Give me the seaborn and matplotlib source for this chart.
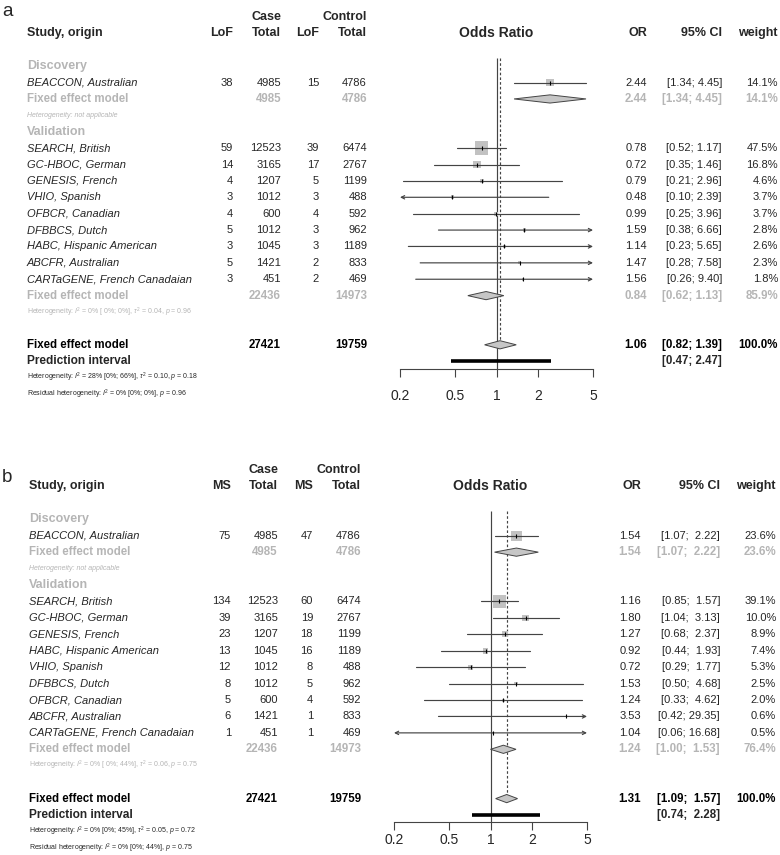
import matplotlib
matplotlib.use("Agg")
import matplotlib.pyplot as plt
import matplotlib.transforms as mtransforms
from matplotlib.patches import Polygon
import numpy as np
import pandas as pd
import seaborn as sns

# ---------------------------------------------------------------------------
# Panel a: loss-of-function variants
# ---------------------------------------------------------------------------
a_studies = ["BEACCON, Australian",
             "SEARCH, British", "GC-HBOC, German", "GENESIS, French",
             "VHIO, Spanish", "OFBCR, Canadian", "DFBBCS, Dutch",
             "HABC, Hispanic American", "ABCFR, Australian",
             "CARTaGENE, French Canadaian"]
a_case_ev = [38, 59, 14, 4, 3, 4, 5, 3, 5, 3]
a_case_tot = [4985, 12523, 3165, 1207, 1012, 600, 1012, 1045, 1421, 451]
a_ctrl_ev = [15, 39, 17, 5, 3, 4, 3, 3, 2, 2]
a_ctrl_tot = [4786, 6474, 2767, 1199, 488, 592, 962, 1189, 833, 469]
a_or = [2.44, 0.78, 0.72, 0.79, 0.48, 0.99, 1.59, 1.14, 1.47, 1.56]
a_lo = [1.34, 0.52, 0.35, 0.21, 0.10, 0.25, 0.38, 0.23, 0.28, 0.26]
a_hi = [4.45, 1.17, 1.46, 2.96, 2.39, 3.96, 6.66, 5.65, 7.58, 9.40]
a_w = [14.1, 47.5, 16.8, 4.6, 3.7, 3.7, 2.8, 2.6, 2.3, 1.8]
# fixed effect: discovery, validation, overall  (or, lo, hi, weight)
a_fixed = [(2.44, 1.34, 4.45, 14.1), (0.84, 0.62, 1.13, 85.9), (1.06, 0.82, 1.39, 100.0)]
a_pred = (0.47, 2.47)
a_het = [r"Heterogeneity: $I^2$ = 0% [ 0%; 0%], $\tau^2$ = 0.04, $p$ = 0.96",
         r"Heterogeneity: $I^2$ = 28% [0%; 66%], $\tau^2$ = 0.10, $p$ = 0.18",
         r"Residual heterogeneity: $I^2$ = 0% [0%; 0%], $p$ = 0.96"]

# ---------------------------------------------------------------------------
# Panel b: missense variants
# ---------------------------------------------------------------------------
b_studies = ["BEACCON, Australian",
             "SEARCH, British", "GC-HBOC, German", "GENESIS, French",
             "HABC, Hispanic American", "VHIO, Spanish", "DFBBCS, Dutch",
             "OFBCR, Canadian", "ABCFR, Australian",
             "CARTaGENE, French Canadaian"]
b_case_ev = [75, 134, 39, 23, 13, 12, 8, 5, 6, 1]
b_case_tot = [4985, 12523, 3165, 1207, 1045, 1012, 1012, 600, 1421, 451]
b_ctrl_ev = [47, 60, 19, 18, 16, 8, 5, 4, 1, 1]
b_ctrl_tot = [4786, 6474, 2767, 1199, 1189, 488, 962, 592, 833, 469]
b_or = [1.54, 1.16, 1.80, 1.27, 0.92, 0.72, 1.53, 1.24, 3.53, 1.04]
b_lo = [1.07, 0.85, 1.04, 0.68, 0.44, 0.29, 0.50, 0.33, 0.42, 0.06]
b_hi = [2.22, 1.57, 3.13, 2.37, 1.93, 1.77, 4.68, 4.62, 29.35, 16.68]
b_w = [23.6, 39.1, 10.0, 8.9, 7.4, 5.3, 2.5, 2.0, 0.6, 0.5]
b_fixed = [(1.54, 1.07, 2.22, 23.6), (1.24, 1.00, 1.53, 76.4), (1.31, 1.09, 1.57, 100.0)]
b_pred = (0.74, 2.28)
b_het = [r"Heterogeneity: $I^2$ = 0% [ 0%; 44%], $\tau^2$ = 0.06, $p$ = 0.75",
         r"Heterogeneity: $I^2$ = 0% [0%; 45%], $\tau^2$ = 0.05, $p$ = 0.72",
         r"Residual heterogeneity: $I^2$ = 0% [0%; 44%], $p$ = 0.75"]

ticks = [0.2, 0.5, 1, 2, 5]
tick_labels = ["0.2", "0.5", "1", "2", "5"]

sns.set_style("white")
plt.rcParams["font.family"] = ["Liberation Sans", "DejaVu Sans"]
plt.rcParams["mathtext.fontset"] = "custom"
plt.rcParams["mathtext.rm"] = "Liberation Sans"
plt.rcParams["mathtext.it"] = "Liberation Sans:italic"

W, H = 780, 855
GRAY = "#b5b5b5"
LINE = "#444444"
SQ = "#c2c2c2"
DIA = "#c6c6c6"

fig = plt.figure(figsize=(W / 100, H / 100), dpi=100)

panels = [
    dict(label="a", label_y=16, y0=17, dy=16.39, axis_row=22.5, x02=400, x5=593,
         cols=(233, 281, 319, 367), study_x=27, or_x=647, ci_x=722, w_x=778, pad=8.5,
         ev="LoF", studies=a_studies, case_ev=a_case_ev, case_tot=a_case_tot,
         ctrl_ev=a_ctrl_ev, ctrl_tot=a_ctrl_tot, orv=a_or, lo=a_lo, hi=a_hi, w=a_w,
         fixed=a_fixed, pred=a_pred, het=a_het),
    dict(label="b", label_y=482, y0=470, dy=16.43, axis_row=22.4, x02=394, x5=587,
         cols=(231, 278, 313, 361), study_x=29, or_x=641, ci_x=720, w_x=776, pad=3,
         ev="MS", studies=b_studies, case_ev=b_case_ev, case_tot=b_case_tot,
         ctrl_ev=b_ctrl_ev, ctrl_tot=b_ctrl_tot, orv=b_or, lo=b_lo, hi=b_hi, w=b_w,
         fixed=b_fixed, pred=b_pred, het=b_het),
]

for p in panels:
    top_px = p["y0"] - 0.5 * p["dy"]
    bot_px = p["y0"] + (p["axis_row"] - 1) * p["dy"]
    ax = fig.add_axes([p["x02"] / W, 1 - bot_px / H,
                       (p["x5"] - p["x02"]) / W, (bot_px - top_px) / H])
    tr = mtransforms.blended_transform_factory(fig.transFigure, ax.transData)

    def txt(xpx, row, s, **kw):
        kw.setdefault("va", "center")
        kw.setdefault("fontsize", 8)
        ax.text(xpx / W, row, s, transform=tr, clip_on=False, **kw)

    n_val = len(p["studies"]) - 1
    rows = [5] + list(range(9, 9 + n_val))
    r_fix_disc, r_het_disc, r_val = 6, 7, 8
    r_fix_val = 9 + n_val
    r_het_val = r_fix_val + 1
    r_fix_all = r_fix_val + 3
    r_pred = r_fix_all + 1

    df = pd.DataFrame({"or": p["orv"], "row": rows, "weight": p["w"]})
    wmax = max(p["w"])

    # confidence intervals (arrows where they run past the axis)
    for o, lo, hi, r in zip(p["orv"], p["lo"], p["hi"], rows):
        a0, a1 = max(lo, ticks[0]), min(hi, ticks[-1])
        if lo < ticks[0] and hi > ticks[-1]:
            style = "<->"
        elif hi > ticks[-1]:
            style = "->"
        elif lo < ticks[0]:
            style = "<-"
        else:
            style = None
        if style is None:
            ax.plot([a0, a1], [r, r], color=LINE, lw=0.85, zorder=2)
        else:
            ax.annotate("", xy=(a1, r), xytext=(a0, r), annotation_clip=False,
                        arrowprops=dict(arrowstyle=style, color=LINE, lw=0.85,
                                        shrinkA=0, shrinkB=0, mutation_scale=6))

    sns.scatterplot(data=df, x="or", y="row", size="weight", sizes=(0, 92),
                    size_norm=(0, wmax), marker="s", color=SQ, edgecolor="none",
                    legend=False, ax=ax, zorder=1)
    ax.scatter(p["orv"], rows, marker="|", s=10, lw=0.8, color="black", zorder=3)

    # reference lines
    ax.vlines(1, 3.5, p["axis_row"], color=LINE, lw=0.85, zorder=0)
    ax.vlines(p["fixed"][2][0], 3.5, r_fix_all, color=LINE, lw=0.85,
              linestyles=(0, (2.2, 1.8)), zorder=0)

    # diamonds
    for (o, lo, hi, w), r in zip(p["fixed"], [r_fix_disc, r_fix_val, r_fix_all]):
        ax.add_patch(Polygon([(lo, r), (o, r - 0.25), (hi, r), (o, r + 0.25)],
                             closed=True, facecolor=DIA, edgecolor=LINE, lw=0.7, zorder=4))
    ax.plot(p["pred"], [r_pred, r_pred], color="black", lw=2.6,
            solid_capstyle="butt", zorder=4)

    ax.set_xscale("log")
    ax.set_xlim(ticks[0], ticks[-1])
    ax.set_ylim(p["axis_row"], 0.5)
    ax.set_xticks(ticks)
    ax.set_xticklabels(tick_labels)
    ax.minorticks_off()
    ax.set_yticks([])
    ax.set_xlabel("")
    ax.set_ylabel("")
    for s in ["top", "left", "right"]:
        ax.spines[s].set_visible(False)
    ax.spines["bottom"].set_color(LINE)
    ax.spines["bottom"].set_linewidth(0.8)
    ax.tick_params(axis="x", direction="out", length=5.5, width=0.8, color=LINE,
                   labelsize=10, pad=p["pad"], bottom=True)
    ax.patch.set_alpha(0)

    # ---- text columns ----
    c1, c2, c3, c4 = p["cols"]
    fig.text(2 / W, 1 - p["label_y"] / H, p["label"], fontsize=13.5, ha="left", va="baseline")
    hb = dict(fontweight="bold", fontsize=9)
    txt(c2, 1, "Case", ha="right", **hb)
    txt(c4, 1, "Control", ha="right", **hb)
    txt(p["study_x"], 2, "Study, origin", ha="left", **hb)
    txt(c1, 2, p["ev"], ha="right", **hb)
    txt(c2, 2, "Total", ha="right", **hb)
    txt(c3, 2, p["ev"], ha="right", **hb)
    txt(c4, 2, "Total", ha="right", **hb)
    txt((p["x02"] + p["x5"]) / 2, 2, "Odds Ratio", ha="center", fontweight="bold", fontsize=10)
    txt(p["or_x"], 2, "OR", ha="right", **hb)
    txt(p["ci_x"], 2, "95% CI", ha="right", **hb)
    txt(p["w_x"], 2, "weight", ha="right", **hb)

    txt(p["study_x"], 4, "Discovery", ha="left", color=GRAY, fontweight="bold", fontsize=9)
    txt(p["study_x"], r_val, "Validation", ha="left", color=GRAY, fontweight="bold", fontsize=9)

    width = max(len(f"{v:.2f}") for v in list(p["hi"]) + [f[2] for f in p["fixed"]] + [p["pred"][1]])

    def ci(lo, hi):
        return f"[{lo:.2f}; {hi:>{width}.2f}]"

    for i, r in enumerate(rows):
        txt(p["study_x"], r, p["studies"][i], ha="left", style="italic")
        txt(c1, r, str(p["case_ev"][i]), ha="right")
        txt(c2, r, str(p["case_tot"][i]), ha="right")
        txt(c3, r, str(p["ctrl_ev"][i]), ha="right")
        txt(c4, r, str(p["ctrl_tot"][i]), ha="right")
        txt(p["or_x"], r, f"{p['orv'][i]:.2f}", ha="right")
        txt(p["ci_x"], r, ci(p["lo"][i], p["hi"][i]), ha="right")
        txt(p["w_x"], r, f"{p['w'][i]:.1f}%", ha="right")

    tot_case = [p["case_tot"][0], sum(p["case_tot"][1:]), sum(p["case_tot"])]
    tot_ctrl = [p["ctrl_tot"][0], sum(p["ctrl_tot"][1:]), sum(p["ctrl_tot"])]
    for k, r in enumerate([r_fix_disc, r_fix_val, r_fix_all]):
        col = "black" if k == 2 else GRAY
        o, lo, hi, w = p["fixed"][k]
        sb = dict(color=col, fontweight="bold", ha="right", fontsize=8.3)
        txt(p["study_x"], r, "Fixed effect model", ha="left", color=col,
            fontweight="bold", fontsize=8.3)
        txt(c2, r, str(tot_case[k]), **sb)
        txt(c4, r, str(tot_ctrl[k]), **sb)
        txt(p["or_x"], r, f"{o:.2f}", **sb)
        txt(p["ci_x"], r, ci(lo, hi), **sb)
        txt(p["w_x"], r, f"{w:.1f}%", **sb)

    txt(p["study_x"], r_pred, "Prediction interval", ha="left", fontweight="bold", fontsize=8.6)
    txt(p["ci_x"], r_pred, ci(*p["pred"]), ha="right", fontweight="bold", fontsize=8.3)

    txt(p["study_x"], r_het_disc, "Heterogeneity: not applicable", ha="left",
        color=GRAY, style="italic", fontsize=5)
    txt(p["study_x"], r_het_val, p["het"][0], ha="left", color=GRAY, fontsize=5)
    txt(p["study_x"], r_pred + 1, p["het"][1], ha="left", fontsize=5)
    txt(p["study_x"], r_pred + 2, p["het"][2], ha="left", fontsize=5)

fig.savefig("out.png", dpi=100)
